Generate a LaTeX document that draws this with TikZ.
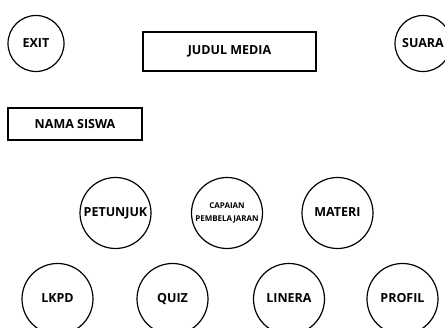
\documentclass[tikz,border=0pt]{standalone}
\usepackage{fontspec}
\setmainfont{Open Sans}
\usepackage{tikz}
\usetikzlibrary{positioning}

\begin{document}
\begin{tikzpicture}[
  x=1pt, y=-1pt,
  font=\bfseries\fontsize{12.5}{15}\selectfont,
  menubtn/.style={draw, circle, line width=1.2pt, minimum size=71pt, inner sep=0pt,
                  align=center, text height=9pt, text depth=1pt},
  smallbtn/.style={draw, circle, line width=1.2pt, minimum size=56pt, inner sep=0pt,
                   text height=9pt, text depth=1pt},
  textbar/.style={draw, rectangle, line width=1.2pt, inner sep=0pt},
]
\useasboundingbox (0,0) rectangle (445,328);

% top bar
\node[smallbtn] (exit) at (36,43.5) {EXIT};
\node[textbar, minimum width=173pt, minimum height=39pt] (judul) at (229.5,51.5) {JUDUL MEDIA};
\node[smallbtn] (suara) at (423,43.5) {SUARA};
\node[textbar, minimum width=134pt, minimum height=32pt] (nama) at (75,124) {NAMA SISWA};

% menu
\node[menubtn] (petunjuk) at (115.5,213) {PETUNJUK};
\node[menubtn, text height={}, text depth={}, font=\bfseries\fontsize{8}{12.5}\selectfont] (capaian) at (227,213) {CAPAIAN\\PEMBELAJARAN};
\node[menubtn] (materi) at (337.5,213) {MATERI};
\node[menubtn] (lkpd) at (57.5,299) {LKPD};
\node[menubtn] (quiz) at (172.5,299) {QUIZ};
\node[menubtn] (linera) at (289,299) {LINERA};
\node[menubtn] (profil) at (402.5,299) {PROFIL};
\end{tikzpicture}
\end{document}
